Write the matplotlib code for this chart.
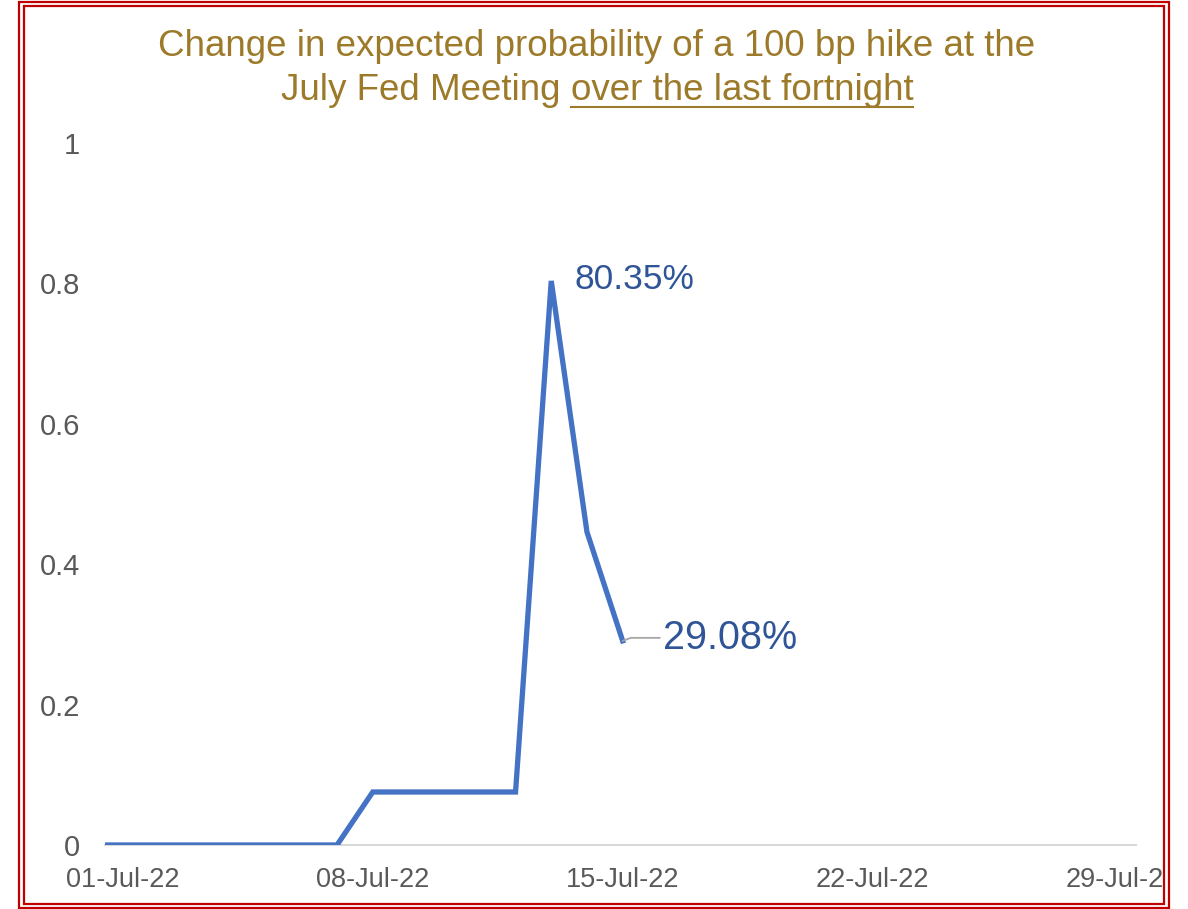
import matplotlib
matplotlib.use("Agg")
import matplotlib.pyplot as plt
from matplotlib.patches import Rectangle
from matplotlib.lines import Line2D
import numpy as np

# ---- data ----
dates = ["2022-06-30", "2022-07-01", "2022-07-02", "2022-07-03", "2022-07-04",
         "2022-07-05", "2022-07-06", "2022-07-07", "2022-07-08", "2022-07-09",
         "2022-07-10", "2022-07-11", "2022-07-12", "2022-07-13", "2022-07-14",
         "2022-07-15"]
probability = [0, 0, 0, 0, 0, 0, 0, 0, 0.0755, 0.0755, 0.0755, 0.0755, 0.0755,
               0.8035, 0.446, 0.2908]
tick_dates = ["2022-07-01", "2022-07-08", "2022-07-15", "2022-07-22", "2022-07-29"]
tick_labels = ["01-Jul-22", "08-Jul-22", "15-Jul-22", "22-Jul-22", "29-Jul-22"]
y_ticks = [0, 0.2, 0.4, 0.6, 0.8, 1]
y_tick_labels = ["0", "0.2", "0.4", "0.6", "0.8", "1"]
peak_label = "80.35%"
last_label = "29.08%"
title_line1 = "Change in expected probability of a 100 bp hike at the"
title_line2a = "July Fed Meeting "
title_line2b = "over the last fortnight"

plt.rcParams['font.family'] = ['Liberation Sans', 'DejaVu Sans']

W, H = 1188, 909
fig = plt.figure(figsize=(W / 100, H / 100), dpi=100)
fig.patch.set_facecolor("white")

ax = fig.add_axes([105 / W, (H - 845) / H, (1136 - 105) / W, (845 - 143) / H])

half = np.timedelta64(12, 'h')
x = np.array(dates, dtype="datetime64[D]").astype("datetime64[h]") + half
ax.plot(x, probability, color="#4472C4", lw=3.8, solid_joinstyle="miter", zorder=3)

x0 = np.datetime64("2022-07-01T00:00")
x1 = x0 + np.timedelta64(int(28.88 * 24 * 60), 'm')
ax.set_xlim(x0, x1)
ax.set_ylim(0, 1)

tx = np.array(tick_dates, dtype="datetime64[D]").astype("datetime64[h]") + half
ax.set_xticks(tx)
ax.set_xticklabels(tick_labels)
ax.set_yticks(y_ticks)
ax.set_yticklabels(y_tick_labels)
ax.tick_params(axis="both", length=0, labelcolor="#595959")
ax.tick_params(axis="x", pad=16, labelsize=19.5)
ax.tick_params(axis="y", pad=18, labelsize=21)

for s in ["top", "right", "left"]:
    ax.spines[s].set_visible(False)
ax.spines["bottom"].set_color("#D9D9D9")
ax.spines["bottom"].set_linewidth(1.5)

# data labels
ax.annotate(peak_label, xy=(x[13], probability[13]), xytext=(23, 1),
            textcoords="offset pixels", va="center", ha="left",
            fontsize=25.5, color="#2F5597")
ax.annotate(last_label, xy=(x[-1], probability[-1]), xytext=(40, 3),
            textcoords="offset pixels", va="center", ha="left",
            fontsize=28.5, color="#2F5597",
            arrowprops=dict(arrowstyle="-", color="#A6A6A6", lw=1.3,
                            shrinkA=0, shrinkB=0,
                            connectionstyle="angle,angleA=0,angleB=20,rad=0"))

# title
tcol = "#9C7A2A"
tfs = 26.5
fig.text(0.5 + 3 / W, 1 - 46 / H, title_line1, ha="center", va="center",
         fontsize=tfs, color=tcol)
fig.canvas.draw()
r = fig.canvas.get_renderer()
ta = fig.text(0, 1 - 90 / H, title_line2a, ha="left", va="center", fontsize=tfs, color=tcol)
tb = fig.text(0, 1 - 90 / H, title_line2b, ha="left", va="center", fontsize=tfs, color=tcol)
wa = ta.get_window_extent(r).width
wb = tb.get_window_extent(r).width
start = (W / 2 + 3) - (wa + wb) / 2
ta.set_x(start / W)
tb.set_x((start + wa) / W)
fig.canvas.draw()
bb = tb.get_window_extent(r)
uy = (bb.y0 + 1) / H
fig.add_artist(Line2D([bb.x0 / W, bb.x1 / W], [uy, uy], color=tcol, lw=1.5))

# cover clipped region on the right and draw double red frame
fig.add_artist(Rectangle((1164 / W, 0), (W - 1164) / W, 1, transform=fig.transFigure,
                         facecolor="white", edgecolor="none", zorder=20))
fig.add_artist(Rectangle((18.5 / W, 1.5 / H), (1168.5 - 18.5) / W, (907.5 - 1.5) / H,
                         transform=fig.transFigure, facecolor="none",
                         edgecolor="#C00000", lw=1.6, zorder=21))
fig.add_artist(Rectangle((23.5 / W, 5.5 / H), (1163.5 - 23.5) / W, (903.5 - 5.5) / H,
                         transform=fig.transFigure, facecolor="none",
                         edgecolor="#C00000", lw=1.6, zorder=21))

fig.savefig("out.png", dpi=100)
